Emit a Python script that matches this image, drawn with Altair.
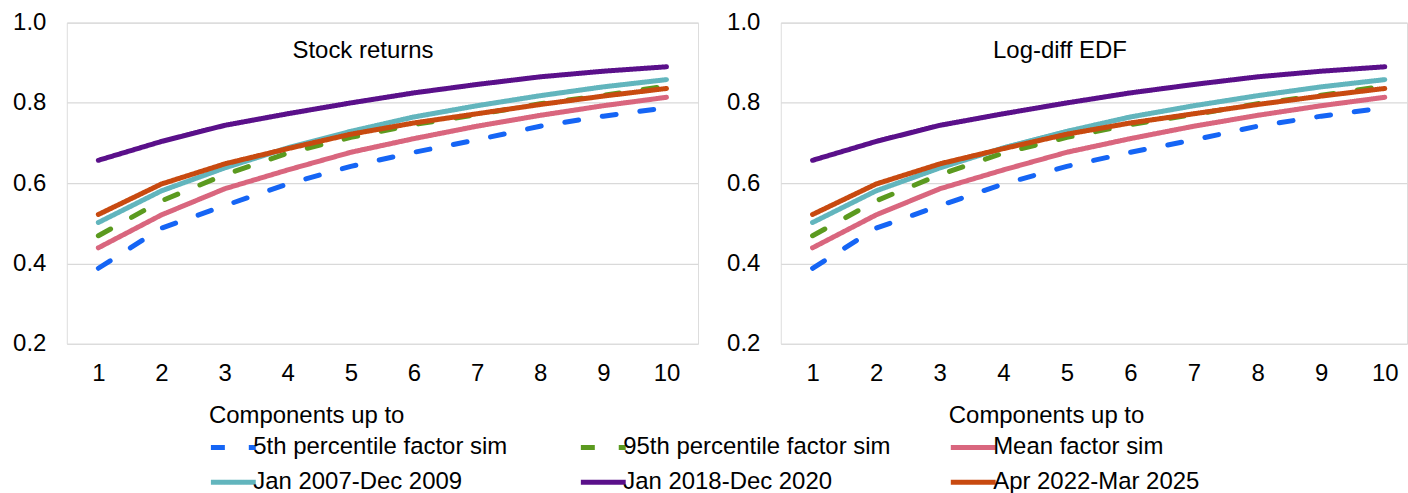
import altair as alt
import pandas as pd

FONT = "Liberation Sans"

components = [1, 2, 3, 4, 5, 6, 7, 8, 9, 10]
series_names = [
    "5th percentile factor sim",
    "95th percentile factor sim",
    "Mean factor sim",
    "Jan 2007-Dec 2009",
    "Jan 2018-Dec 2020",
    "Apr 2022-Mar 2025",
]
p5 = [0.388, 0.488, 0.544, 0.598, 0.642, 0.677, 0.708, 0.742, 0.767, 0.788]
p95 = [0.469, 0.556, 0.621, 0.675, 0.714, 0.746, 0.771, 0.798, 0.819, 0.842]
mean_sim = [0.439, 0.521, 0.586, 0.633, 0.677, 0.711, 0.742, 0.769, 0.793, 0.814]
gfc = [0.502, 0.581, 0.638, 0.688, 0.729, 0.765, 0.793, 0.818, 0.840, 0.858]
covid = [0.657, 0.704, 0.744, 0.773, 0.800, 0.825, 0.846, 0.865, 0.879, 0.890]
recent = [0.522, 0.598, 0.648, 0.686, 0.722, 0.750, 0.773, 0.796, 0.817, 0.836]
panel_titles = ["Stock returns", "Log-diff EDF"]
y_ticks = [0.2, 0.4, 0.6, 0.8, 1.0]

colors = ["#1565F5", "#5B9A1F", "#D9667E", "#62B5BD", "#5A108A", "#C84A10"]
dashes = [[14, 24], [14, 24], [1, 0], [1, 0], [1, 0], [1, 0]]

rows = []
for name, vals in zip(series_names, [p5, p95, mean_sim, gfc, covid, recent]):
    for c, v in zip(components, vals):
        rows.append({"series": name, "comp": c, "value": v})
df = pd.DataFrame(rows)

legend = alt.Legend(
    title=None,
    orient="none",
    direction="horizontal",
    legendX=155,
    legendY=414,
    columns=3,
    gridAlign="all",
    columnPadding=49,
    rowPadding=11,
    symbolType="M-2.5,0H2.5",
    symbolSize=324,
    symbolStrokeWidth=5,
    labelFont=FONT,
    labelFontSize=24,
    labelColor="black",
    labelOffset=8,
    labelLimit=500,
    padding=0,
)


def panel(title, width, xmax, title_x, title_y, axis_title_x):
    base = alt.Chart(df)
    lines = base.mark_line(strokeWidth=5, strokeCap="round", strokeJoin="round").encode(
        x=alt.X(
            "comp:Q",
            scale=alt.Scale(domain=[0.5, xmax], nice=False, zero=False),
            axis=alt.Axis(
                values=components,
                format="d",
                grid=False,
                domain=False,
                ticks=False,
                labelFont=FONT,
                labelFontSize=24,
                labelColor="black",
                labelPadding=18,
                labelFlush=False,
                title="Components up to",
                titleFont=FONT,
                titleFontSize=24,
                titleFontWeight="normal",
                titleColor="black",
                titleAlign="left",
                titleBaseline="alphabetic",
                titleX=axis_title_x,
                titleY=79,
            ),
        ),
        y=alt.Y(
            "value:Q",
            scale=alt.Scale(domain=[0.2, 1.0], nice=False, zero=False),
            axis=alt.Axis(
                values=y_ticks,
                format=".1f",
                grid=True,
                gridColor="#D9D9D9",
                gridWidth=1.2,
                domain=False,
                ticks=False,
                labelFont=FONT,
                labelFontSize=24,
                labelColor="black",
                labelPadding=21,
                title=None,
            ),
        ),
        color=alt.Color(
            "series:N",
            scale=alt.Scale(domain=series_names, range=colors),
            legend=legend,
        ),
        strokeDash=alt.StrokeDash(
            "series:N",
            scale=alt.Scale(domain=series_names, range=dashes),
            legend=legend,
        ),
        order=alt.Order("comp:Q"),
    )
    label = alt.Chart(pd.DataFrame({"t": [title]})).mark_text(
        font=FONT, fontSize=24, color="black", align="center", baseline="middle"
    ).encode(text="t:N", x=alt.value(title_x), y=alt.value(title_y))
    return alt.layer(lines, label).properties(width=width, height=322)


left = panel(panel_titles[0], 633, 10.5, 297, 28, 142)
right = panel(panel_titles[1], 628, 10.35, 280, 28, 168)

chart = (
    alt.hconcat(left, right, spacing=27)
    .properties(padding={"left": 12, "top": 9, "right": 0, "bottom": 0})
    .configure_view(stroke=None)
    .configure(background="white")
)

chart.save("out.html", embed_options={"renderer": "svg", "actions": False})
